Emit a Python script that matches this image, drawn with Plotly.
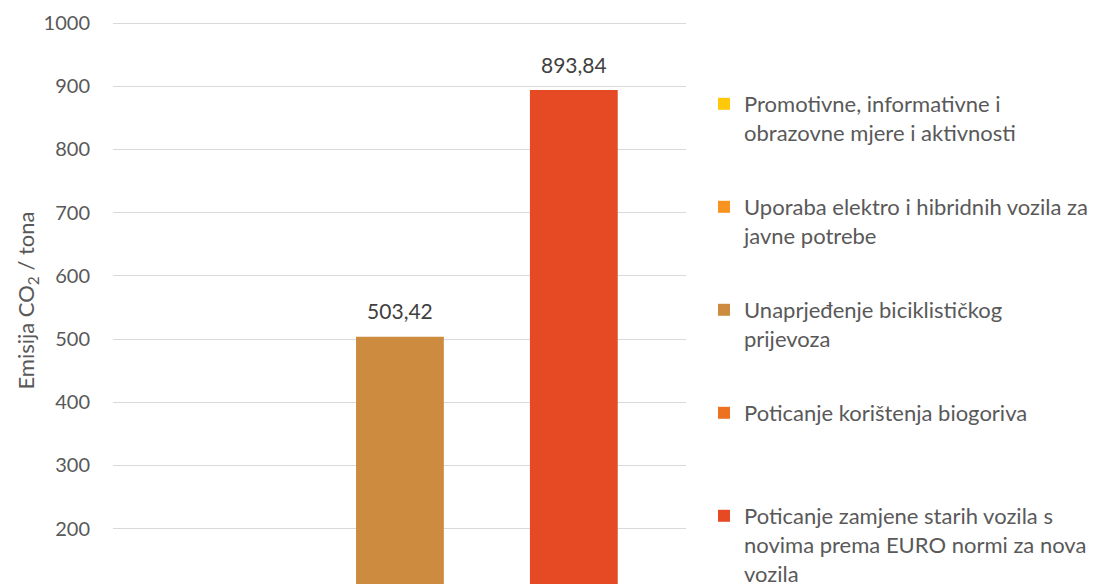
import plotly.graph_objects as go

# ---- data ----
series_names = [
    "Promotivne, informativne i<br>obrazovne mjere i aktivnosti",
    "Uporaba elektro i hibridnih vozila za<br>javne potrebe",
    "Unaprjeđenje biciklističkog<br>prijevoza",
    "Poticanje korištenja biogoriva",
    "Poticanje zamjene starih vozila s<br>novima prema EURO normi za nova<br>vozila",
]
series_values = [None, 62.38, 503.42, None, 893.84]
series_colors = ["#FFC909", "#F7931E", "#CD8B3F", "#EC7121", "#E54A24"]
bar_categories = ["c1", "c2", "c3"]          # slots of the visible bars
bar_series_idx = [1, 2, 4]                    # which series sits in each slot
y_ticks = [100, 200, 300, 400, 500, 600, 700, 800, 900, 1000]
y_title = "Emisija CO<sub>2</sub> / tona"

FONT = "Lato"
OFF = 8                      # page body margin
W, H = 1096 - OFF, 584 - OFF
PLOT_L, PLOT_R, PLOT_T, PLOT_B = 113 - OFF, 686 - OFF, 17 - OFF, 584 - OFF
PX_PER_100 = 63.2
GRID_1000_PX = 23 - OFF
y_top = 1000 + (GRID_1000_PX - PLOT_T) / PX_PER_100 * 100
y_bottom = 1000 - (PLOT_B - GRID_1000_PX) / PX_PER_100 * 100

fig = go.Figure()

legend_first_line_px = [104, 207, 310, 413, 516]
plot_h = PLOT_B - PLOT_T

for i, (name, val, col) in enumerate(zip(series_names, series_values, series_colors)):
    if i in bar_series_idx:
        cat = bar_categories[bar_series_idx.index(i)]
        xs, ys = [cat], [val]
    else:
        xs, ys = [bar_categories[0]], [None]
    lg = "legend" if i == 0 else f"legend{i+1}"
    fig.add_trace(go.Bar(
        x=xs, y=ys, name=name, marker=dict(color=col, line=dict(width=0)),
        width=0.505, legend=lg, hoverinfo="skip",
    ))

# value labels
lab_x = [bar_categories[k] for k in range(len(bar_series_idx))]
lab_y = [series_values[j] for j in bar_series_idx]
lab_t = [f"{v:.2f}".replace(".", ",") for v in lab_y]
fig.add_trace(go.Scatter(
    x=lab_x, y=lab_y, text=lab_t, mode="markers+text", textposition="top center",
    marker=dict(size=18, color="rgba(0,0,0,0)"),
    textfont=dict(family=FONT, size=21, color="#404040"),
    cliponaxis=False, showlegend=False, hoverinfo="skip",
))

layout_legends = {}
for i, py in enumerate(legend_first_line_px):
    key = "legend" if i == 0 else f"legend{i+1}"
    layout_legends[key] = dict(
        x=(704 - OFF - PLOT_L) / (PLOT_R - PLOT_L), xanchor="left",
        y=(PLOT_B - (py - OFF - 21)) / plot_h, yanchor="top",
        valign="top", bgcolor="rgba(0,0,0,0)",
        font=dict(family=FONT, size=22, color="#595959"),
        itemclick=False,
    )

fig.update_layout(
    width=W, height=H,
    margin=dict(l=PLOT_L, r=W - PLOT_R, t=PLOT_T, b=H - PLOT_B, pad=0, autoexpand=False),
    plot_bgcolor="white", paper_bgcolor="white",
    barmode="overlay", showlegend=True,
    font=dict(family=FONT, size=20, color="#595959"),
    xaxis=dict(
        type="category", categoryorder="array", categoryarray=bar_categories,
        range=[-0.65, 2.645], showticklabels=False, showgrid=False,
        zeroline=False, showline=False, ticks="",
    ),
    yaxis=dict(
        range=[y_bottom, y_top], tickvals=y_ticks, ticktext=[str(t) for t in y_ticks],
        showgrid=True, gridcolor="#D9D9D9", gridwidth=1.3, zeroline=False,
        showline=False, ticks="", ticklabelstandoff=22,
        tickfont=dict(family=FONT, size=20, color="#595959"),
        title=dict(text=y_title, standoff=2,
                   font=dict(family=FONT, size=22, color="#595959")),
    ),
    **layout_legends,
)

fig.write_html("out.html")
